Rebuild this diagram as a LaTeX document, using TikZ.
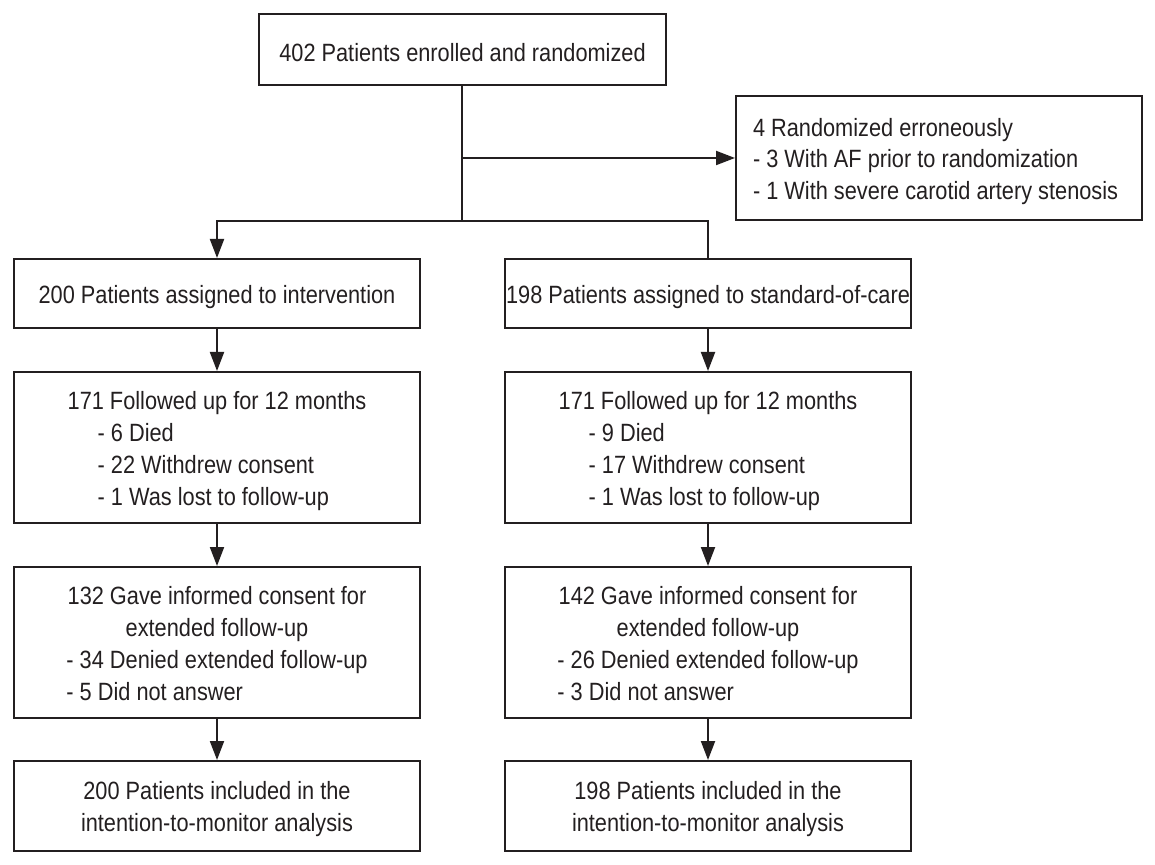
\documentclass[tikz,border=0pt]{standalone}
\usepackage{fontspec}
\setmainfont{Liberation Sans}[FakeStretch=0.87]
\usetikzlibrary{arrows.meta}
\definecolor{ink}{HTML}{231F20}
\newcommand{\dn}[1]{\raisebox{-1.6pt}[\height][\depth]{#1}}
\begin{document}
\begin{tikzpicture}[x=0.5pt,y=-0.5pt,
  box/.style={draw=ink, line width=1pt, minimum width=203pt, inner sep=0pt,
    font=\fontsize{12.5}{16}\selectfont, text=ink},
  conn/.style={line width=1pt, draw=ink},
  arr/.style={conn, -{Triangle[length=9.5pt,width=7pt]}}]
\useasboundingbox (0,0) rectangle (1155,865);

\node[box, minimum width=203.5pt, minimum height=35.5pt] (top) at (462.5,49.5) {\dn{402 Patients enrolled and randomized}};
\node[box, minimum height=62pt, font=\fontsize{12.5}{15.75}\selectfont] (err) at (939,158)
  {\dn{\begin{minipage}{186pt}\raggedright 4 Randomized erroneously\\- 3 With AF prior to randomization\\- 1 With severe carotid artery stenosis\end{minipage}}};

\node[box, minimum height=34.5pt] (int) at (217,293.5) {\dn{200 Patients assigned to intervention}};
\node[box, minimum height=34.5pt] (std) at (708,293.5) {\dn{198 Patients assigned to standard-of-care}};

\node[box, minimum height=75.5pt] (f1) at (217,447.5)
  {\dn{\begin{tabular}{@{}l@{}}171 Followed up for 12 months\\\hspace*{15pt}- 6 Died\\\hspace*{15pt}- 22 Withdrew consent\\\hspace*{15pt}- 1 Was lost to follow-up\end{tabular}}};
\node[box, minimum height=75.5pt] (f2) at (708,447.5)
  {\dn{\begin{tabular}{@{}l@{}}171 Followed up for 12 months\\\hspace*{15pt}- 9 Died\\\hspace*{15pt}- 17 Withdrew consent\\\hspace*{15pt}- 1 Was lost to follow-up\end{tabular}}};

\node[box, minimum height=75.5pt] (c1) at (217,642.5)
  {\dn{\begin{tabular}{@{}c@{}}132 Gave informed consent for\\extended follow-up\\\multicolumn{1}{@{}l@{}}{- 34 Denied extended follow-up}\\\multicolumn{1}{@{}l@{}}{- 5 Did not answer}\end{tabular}}};
\node[box, minimum height=75.5pt] (c2) at (708,642.5)
  {\dn{\begin{tabular}{@{}c@{}}142 Gave informed consent for\\extended follow-up\\\multicolumn{1}{@{}l@{}}{- 26 Denied extended follow-up}\\\multicolumn{1}{@{}l@{}}{- 3 Did not answer}\end{tabular}}};

\node[box, minimum height=45pt] (a1) at (217,806)
  {\dn{\begin{tabular}{@{}c@{}}200 Patients included in the\\intention-to-monitor analysis\end{tabular}}};
\node[box, minimum height=45pt] (a2) at (708,806)
  {\dn{\begin{tabular}{@{}c@{}}198 Patients included in the\\intention-to-monitor analysis\end{tabular}}};

\coordinate (mid) at (462,158);
\coordinate (split) at (462,221);
\draw[conn] (top.south -| split) -- (split);
\draw[arr] (mid) -- (err.west);
\draw[arr] (split) -| (int.north);
\draw[conn] (split) -| (std.north);
\draw[arr] (int.south) -- (f1.north);
\draw[arr] (std.south) -- (f2.north);
\draw[arr] (f1.south) -- (c1.north);
\draw[arr] (f2.south) -- (c2.north);
\draw[arr] (c1.south) -- (a1.north);
\draw[arr] (c2.south) -- (a2.north);
\end{tikzpicture}
\end{document}
